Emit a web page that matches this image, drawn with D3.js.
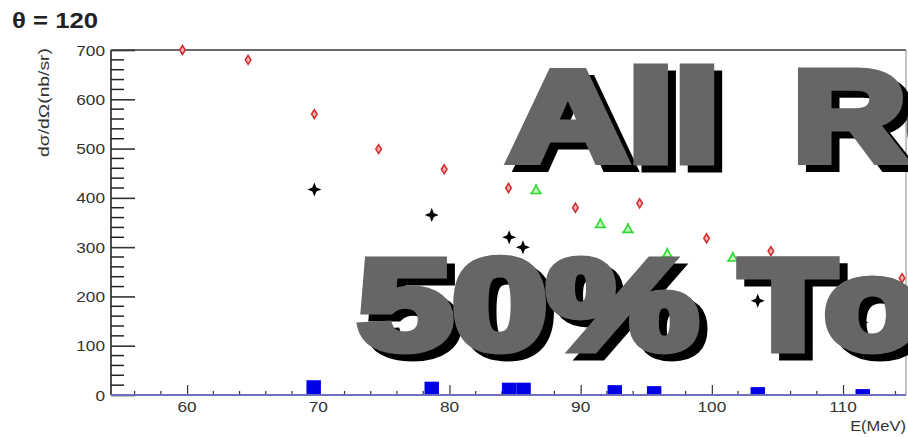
<!DOCTYPE html>
<html>
<head>
<meta charset="utf-8">
<script src="https://cdn.jsdelivr.net/npm/d3@7"></script>
<style>
  html, body { margin: 0; padding: 0; background: #fff; }
  svg { display: block; }
  text { font-family: "Liberation Sans", Arial, sans-serif; }
</style>
</head>
<body>
<svg id="chart" width="908" height="437"></svg>
<script>
// Cross section at theta = 120 deg, photon energy in MeV
const redE   = [59.65, 64.65, 69.7, 74.6, 79.6, 84.5, 89.6, 94.5, 99.6, 104.5, 114.5];
const redV   = [700, 680, 570, 499, 458, 420, 380, 389, 318, 292, 237];

const greenE = [86.6, 91.5, 93.6, 96.6, 101.6];
const greenV = [416, 347, 337, 287, 279];

const blackE = [69.7, 78.65, 84.55, 85.6, 103.5, 111.4];
const blackV = [417, 365, 320, 300, 191, 147];

// bottom histogram (bin centre, height)
const barE = [69.65, 78.65, 84.55, 85.65, 92.6, 95.6, 103.5, 111.5];
const barV = [30, 27, 25, 25, 20, 18, 16, 12];
const barWidth = 1.1;

const xTickValues = [60, 70, 80, 90, 100, 110];
const yTickValues = [0, 100, 200, 300, 400, 500, 600, 700];

const titleText = "\u03b8 = 120";
const xTitle = "E(MeV)";
const yTitle = "d\u03c3/d\u03a9(nb/sr)";
const stampWords = ["All", "Re", "50%", "To"];

const svg = d3.select("#chart");
const plotL = 111, plotR = 906, plotT = 50, plotB = 395;
const stretch = 1.15; // horizontal widening of the axis lettering

const x = d3.scaleLinear().domain([54.2, 114.8]).range([plotL, plotR]);
const y = d3.scaleLinear().domain([0, 700]).range([plotB, plotT]);

// frame
svg.append("line").attr("x1", plotL).attr("x2", plotR).attr("y1", plotT).attr("y2", plotT)
  .attr("stroke", "#6a6a6a").attr("stroke-width", 2);
svg.append("line").attr("x1", plotR).attr("x2", plotR).attr("y1", plotT).attr("y2", plotB)
  .attr("stroke", "#8a8a8a").attr("stroke-width", 1);

// y axis with inward ticks
const yAxisG = svg.append("g").attr("transform", `translate(${plotL},0)`);
yAxisG.append("line").attr("x1", 0).attr("x2", 0).attr("y1", plotT).attr("y2", plotB)
  .attr("stroke", "#222").attr("stroke-width", 1.6);
const yMinor = d3.range(0, 701, 20).filter(v => v % 100 !== 0);
yAxisG.selectAll("line.ymin").data(yMinor).join("line").attr("class", "ymin")
  .attr("x1", 0).attr("x2", 13).attr("y1", d => y(d)).attr("y2", d => y(d))
  .attr("stroke", "#222").attr("stroke-width", 1.5);
const yAxis = d3.axisRight(y).tickValues(yTickValues).tickSize(24).tickFormat("");
yAxisG.append("g").call(yAxis).call(g => g.select(".domain").remove())
  .call(g => g.selectAll(".tick line").attr("stroke", "#333").attr("stroke-width", 1.6));
svg.append("g").selectAll("text").data(yTickValues).join("text")
  .attr("transform", d => `translate(105,${y(d) + 5.5}) scale(${stretch},1)`)
  .attr("text-anchor", "end").attr("font-size", 15).attr("fill", "#333")
  .text(d => d);

// x axis: minor ticks every 2 MeV, major every 10
const xMinor = d3.range(56, 115, 2).filter(v => v % 10 !== 0);
svg.append("g").selectAll("line").data(xMinor).join("line")
  .attr("x1", d => x(d)).attr("x2", d => x(d)).attr("y1", plotB).attr("y2", plotB - 4)
  .attr("stroke", "#333").attr("stroke-width", 1.2);
const xAxis = d3.axisTop(x).tickValues(xTickValues).tickSize(10).tickFormat("");
svg.append("g").attr("transform", `translate(0,${plotB})`).call(xAxis)
  .call(g => g.select(".domain").remove())
  .call(g => g.selectAll(".tick line").attr("stroke", "#333").attr("stroke-width", 1.2));
svg.append("g").selectAll("text").data(xTickValues).join("text")
  .attr("transform", d => `translate(${x(d)},412) scale(${stretch},1)`)
  .attr("text-anchor", "middle").attr("font-size", 15).attr("fill", "#333")
  .text(d => d);

// bottom histogram
svg.append("g").selectAll("rect").data(barE.map((e, i) => ({e, v: barV[i]}))).join("rect")
  .attr("x", d => x(d.e - barWidth / 2)).attr("width", d => x(d.e + barWidth / 2) - x(d.e - barWidth / 2))
  .attr("y", d => y(d.v)).attr("height", d => y(0) - y(d.v))
  .attr("fill", "#0000e6");

// x axis baseline
svg.append("line").attr("x1", plotL).attr("x2", plotR).attr("y1", plotB).attr("y2", plotB)
  .attr("stroke", "#6f6fbf").attr("stroke-width", 2.2);

// markers
const pts = (E, V) => E.map((e, i) => ({e, v: V[i]}));
svg.append("g").selectAll("path").data(pts(redE, redV)).join("path")
  .attr("transform", d => `translate(${x(d.e)},${y(d.v)})`)
  .attr("d", "M0,-4.5L2.8,0L0,4.5L-2.8,0Z")
  .attr("fill", "#f4b0b0").attr("stroke", "#d42a2a").attr("stroke-width", 1.5);
svg.append("g").selectAll("path").data(pts(greenE, greenV)).join("path")
  .attr("transform", d => `translate(${x(d.e)},${y(d.v)})`)
  .attr("d", "M0,-4.5L4.5,3.5L-4.5,3.5Z M-6,3.5L6,3.5 M0,-6L0,-4.5")
  .attr("fill", "#bff5bf").attr("stroke", "#2ed82e").attr("stroke-width", 1.6);
svg.append("g").selectAll("path").data(pts(blackE, blackV)).join("path")
  .attr("transform", d => `translate(${x(d.e)},${y(d.v)})`)
  .attr("d", "M0,-7L2,-2L7,0L2,2L0,7L-2,2L-7,0L-2,-2Z")
  .attr("fill", "#000");

// titles
svg.append("text").attr("x", 12).attr("y", 28).attr("font-size", 22).attr("font-weight", "bold")
  .attr("textLength", 86).attr("lengthAdjust", "spacingAndGlyphs")
  .attr("fill", "#222").text(titleText);
svg.append("text").attr("transform", "translate(906,431) scale(1.1,1)").attr("text-anchor", "end")
  .attr("font-size", 15).attr("fill", "#333").text(xTitle);
svg.append("text").attr("transform", "translate(49,48) rotate(-90)").attr("text-anchor", "end")
  .attr("font-size", 15).attr("fill", "#333")
  .attr("textLength", 109).attr("lengthAdjust", "spacingAndGlyphs").text(yTitle);

// stamp: heavy grey words with a black drop shadow, laid out word by word
const stampLayout = [
  {x: 508, y: 161, len: 212},
  {x: 793, y: 161, len: 200},
  {x: 358, y: 349, len: 340},
  {x: 740, y: 349, len: 180}
];
const stamp = svg.append("g").attr("font-weight", "bold").attr("font-size", 128)
  .attr("font-family", "'DejaVu Sans', sans-serif");
[[8, 7, "#000"], [0, 0, "#666"]].forEach(([dx, dy, col]) => {
  stamp.append("g").selectAll("text").data(stampWords).join("text")
    .attr("x", (d, i) => stampLayout[i].x + dx).attr("y", (d, i) => stampLayout[i].y + dy)
    .attr("textLength", (d, i) => stampLayout[i].len).attr("lengthAdjust", "spacingAndGlyphs")
    .attr("fill", col).attr("stroke", col).attr("stroke-width", 9)
    .attr("stroke-linejoin", "miter").attr("paint-order", "stroke")
    .text(d => d);
});
</script>
</body>
</html>
